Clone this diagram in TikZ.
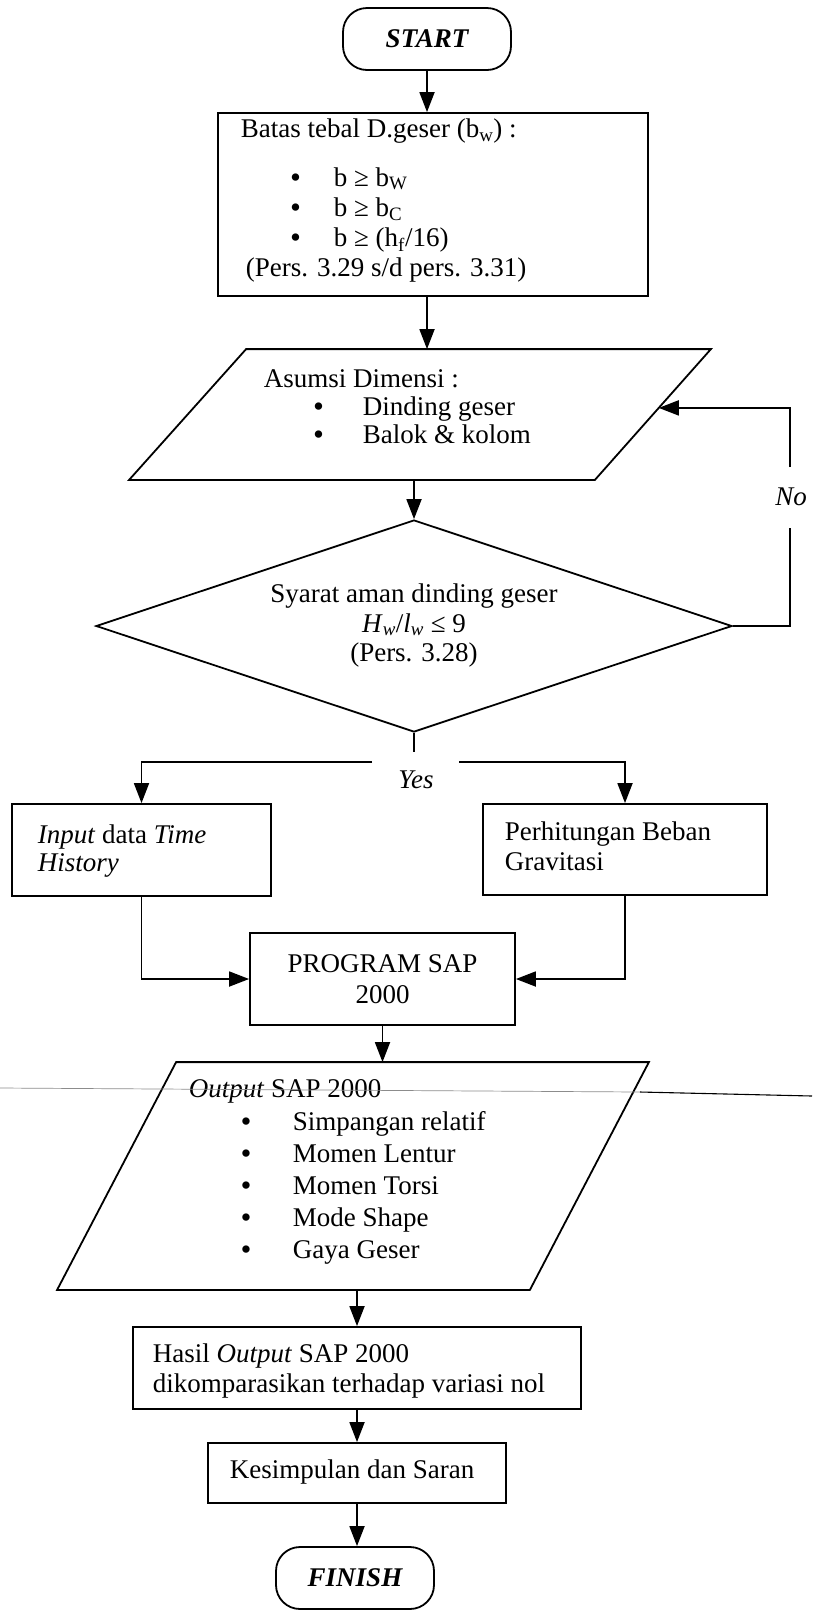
\documentclass[tikz,border=0pt]{standalone}
\usepackage{fontspec}
\setmainfont{Liberation Serif}
\usetikzlibrary{arrows.meta,calc,shapes.geometric}
\newcommand\myfs{\fontsize{27}{31}\selectfont}
\newcommand\mbul[1]{\makebox[#1][l]{\bfseries •}}
\begin{document}
\begin{tikzpicture}[x=1pt,y=-1pt,
  line width=1.8pt,
  arr/.style={-{Triangle[length=20pt,width=15pt]}},
  box/.style={draw,rectangle,inner sep=0pt},
  ghost/.style={rectangle,inner sep=0pt,draw=none},
  term/.style={draw,rectangle,rounded corners=24pt,inner sep=0pt,font=\myfs\bfseries\itshape},
  txt/.style={anchor=base west,inner sep=0pt,font=\myfs},
  ctxt/.style={anchor=base,inner sep=0pt,font=\myfs},
  scanline/.style={line width=0.7pt,black!45}
]
\fill[white] (0,0) rectangle (812,1610);
\useasboundingbox (0,0) rectangle (812,1610);

% START
\node[term,minimum width=168pt,minimum height=62pt] (start) at (427,39) {START};

% Batas box
\node[box,minimum width=430pt,minimum height=183pt] (batas) at (433,204.5) {};
\node[txt] (b1) at (240,137.5) {Batas tebal D.geser (b\textsubscript{w}) :};
\node[txt] (b2) at (290,186) {\mbul{43pt}b ≥ b\textsubscript{W}};
\node[txt] (b3) at (290,216.5) {\mbul{43pt}b ≥ b\textsubscript{C}};
\node[txt] (b4) at (290,246.5) {\mbul{43pt}b ≥ (h\textsubscript{f}/16)};
\node[txt] (b5) at (245,276.5) {(Pers. 3.29 s/d pers. 3.31)};
\draw[arr] (start.south) -- (start.south |- batas.north);

% Asumsi parallelogram
\node[ghost,minimum width=580pt,minimum height=129pt] (asm) at (420,414.5) {};
\coordinate (asmTL) at ($(asm.north west)+(117,0)$);
\coordinate (asmTR) at (asm.north east);
\coordinate (asmBR) at ($(asm.south east)+(-116,0)$);
\coordinate (asmBL) at (asm.south west);
\draw (asmTL) -- (asmTR) -- (asmBR) -- (asmBL) -- cycle;
\coordinate (asmR) at ($(asmTR)!0.4496!(asmBR)$);
\node[txt] (a1) at (263,387) {Asumsi Dimensi :};
\node[txt] (a2) at (313,415) {\mbul{49pt}Dinding geser};
\node[txt] (a3) at (313,443) {\mbul{49pt}Balok \& kolom};
\draw[arr] (batas.south -| start.south) -- (start.south |- asm.north);

% Diamond
\node[draw,diamond,minimum width=636pt,minimum height=212pt,inner sep=0pt] (dia) at (414,626) {};
\node[ctxt] (d1) at (414,602) {Syarat aman dinding geser};
\node[ctxt] (d2) at (414,632) {\textit{H}\textsubscript{\textit{w}}/\textit{l}\textsubscript{\textit{w}} ≤ 9};
\node[ctxt] (d3) at (414,661) {(Pers. 3.28)};
\draw[arr] (dia.north |- asm.south) -- (dia.north);

% No loop
\coordinate (noTop) at (790,467);
\coordinate (noBot) at (790,528);
\draw (dia.east) -| (noBot);
\draw[arr] (noTop) |- (asmR);
\node[inner sep=0pt,font=\myfs\itshape] (no) at (791,497) {No};

% Yes split
\coordinate (yStub) at (414,752);
\coordinate (yL) at (372,762);
\coordinate (yR) at (459,762);
\draw (dia.south) -- (yStub);
\node[anchor=base,inner sep=0pt,font=\myfs\itshape] (yes) at (416,788) {Yes};

% Input box
\node[box,minimum width=259pt,minimum height=92pt] (inp) at (141.5,850) {};
\node[txt] (i1) at (37,843) {\textit{Input} data \textit{Time}};
\node[txt] (i2) at (37,871) {\textit{History}};

% Perhitungan box
\node[box,minimum width=284pt,minimum height=91pt] (per) at (625,849.5) {};
\node[txt] (p1) at (504,840) {Perhitungan Beban};
\node[txt] (p2) at (504,870) {Gravitasi};

\draw[arr] (yL) -| (inp.north);
\draw[arr] (yR) -| (per.north);

% Program box
\node[box,minimum width=265pt,minimum height=92pt,align=center,font=\myfs] (prog) at (382.5,979) {PROGRAM SAP\\2000};
\draw[arr] (inp.south) |- (prog.west);
\draw[arr] (per.south) |- (prog.east);

% Output parallelogram
\node[ghost,minimum width=590pt,minimum height=226pt] (out) at (353,1176) {};
\coordinate (outTL) at ($(out.north west)+(119,0)$);
\coordinate (outTR) at (out.north east);
\coordinate (outBR) at ($(out.south east)+(-119,0)$);
\coordinate (outBL) at (out.south west);
\draw (outTL) -- (outTR) -- (outBR) -- (outBL) -- cycle;
\draw[arr] (prog.south) -- (prog.south |- out.north);
\node[txt] (o0) at (188,1097) {\textit{Output} SAP 2000};
\node[txt] (o1) at (240.5,1130) {\mbul{51.5pt}Simpangan relatif};
\node[txt] (o2) at (240.5,1162) {\mbul{51.5pt}Momen Lentur};
\node[txt] (o3) at (240.5,1194) {\mbul{51.5pt}Momen Torsi};
\node[txt] (o4) at (240.5,1226) {\mbul{51.5pt}Mode Shape};
\node[txt] (o5) at (240.5,1258) {\mbul{51.5pt}Gaya Geser};

% scan artefact line
\draw[scanline] (0,1088) -- (640,1092);
\draw[line width=1.1pt] (640,1092) -- (812,1096);

% Hasil box
\node[box,minimum width=448pt,minimum height=82pt] (hasil) at (357,1368) {};
\node[txt] (h1) at (152,1362) {Hasil \textit{Output} SAP 2000};
\node[txt] (h2) at (152,1392) {dikomparasikan terhadap variasi nol};
\draw[arr] (hasil.north |- out.south) -- (hasil.north);

% Kesimpulan box
\node[box,minimum width=298pt,minimum height=60pt] (kes) at (357,1473) {};
\node[txt] (k1) at (229,1478) {Kesimpulan dan Saran};
\draw[arr] (hasil.south) -- (kes.north);

% FINISH
\node[term,minimum width=158pt,minimum height=62pt] (fin) at (355,1578) {FINISH};
\draw[arr] (kes.south) -- (kes.south |- fin.north);
\end{tikzpicture}
\end{document}
